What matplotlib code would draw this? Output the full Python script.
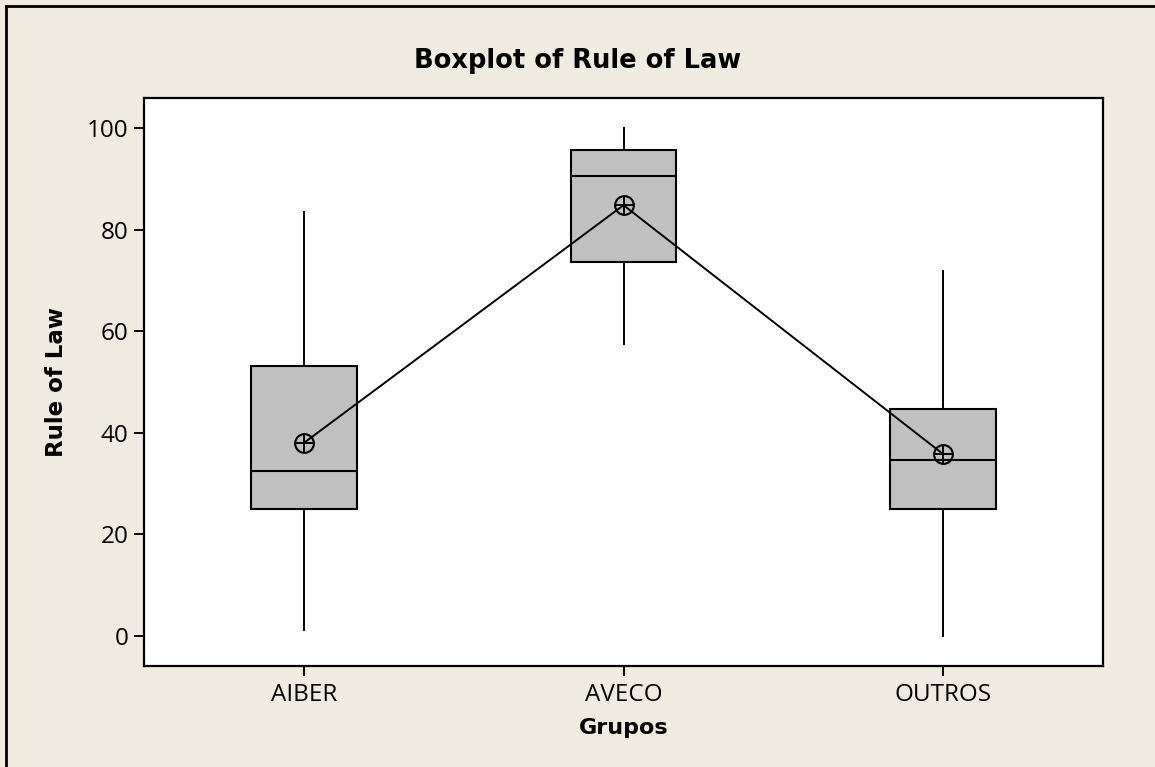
import matplotlib
matplotlib.use("Agg")
import matplotlib.pyplot as plt
from matplotlib.lines import Line2D

# ── Data ──────────────────────────────────────────────────────────────────
groups = ["AIBER", "AVECO", "OUTROS"]
whisker_low = [1.2, 57.5, 0.0]
q1 = [25.0, 73.7, 25.0]
median = [32.5, 90.6, 34.6]
q3 = [53.2, 95.7, 44.6]
whisker_high = [83.5, 100.0, 71.8]
means = [38.0, 84.8, 35.8]
y_ticks = [0, 20, 40, 60, 80, 100]

BG = "#EFEBE0"
BOX = "#C0C0C0"
W, H = 1155, 767

fig = plt.figure(figsize=(W / 100, H / 100), dpi=100, facecolor=BG)
ax = fig.add_axes([144 / W, 1 - 666 / H, (1103 - 144) / W, (666 - 98) / H])
ax.set_facecolor("white")

# outer frame (only left and top edges visible in the reference)
fig.add_artist(Line2D([6 / W, 6 / W], [0, 1 - 6 / H], transform=fig.transFigure,
                      color="black", linewidth=2))
fig.add_artist(Line2D([6 / W, 1], [1 - 6 / H, 1 - 6 / H], transform=fig.transFigure,
                      color="black", linewidth=2))

positions = list(range(1, len(groups) + 1))
stats = [
    {"whislo": lo, "q1": a, "med": m, "q3": b, "whishi": hi, "fliers": []}
    for lo, a, m, b, hi in zip(whisker_low, q1, median, q3, whisker_high)
]
ax.bxp(stats, positions=positions, widths=0.33, patch_artist=True,
       showcaps=False, showfliers=False,
       boxprops=dict(facecolor=BOX, edgecolor="black", linewidth=1.5),
       medianprops=dict(color="black", linewidth=1.5),
       whiskerprops=dict(color="black", linewidth=1.4))

# mean connect line + circled-plus symbols
ax.plot(positions, means, color="black", linewidth=1.4, zorder=4)
ax.plot(positions, means, "o", mfc="none", mec="black", ms=13.5, mew=1.5, zorder=5)
ax.plot(positions, means, "+", color="black", ms=13.5, mew=1.4, zorder=5)

ax.set_xlim(0.5, 3.5)
ax.set_ylim(-5.9, 105.9)
ax.set_xticks(positions)
ax.set_xticklabels(groups)
ax.set_yticks(y_ticks)

for lab in ax.get_xticklabels() + ax.get_yticklabels():
    lab.set_fontfamily("Open Sans")
    lab.set_fontsize(17.5)
ax.tick_params(direction="out", length=7, width=1.4, pad=4, colors="black")
ax.tick_params(axis="x", pad=5)
for sp in ax.spines.values():
    sp.set_linewidth(1.6)

ax.set_xlabel("Grupos", labelpad=8, family="DejaVu Sans", size=16, fontweight="bold")
ax.set_ylabel("Rule of Law", labelpad=14, family="DejaVu Sans", size=16.5,
              fontweight="bold")
fig.text(0.5, 1 - 61 / H, "Boxplot of Rule of Law", ha="center", va="center",
         family="DejaVu Sans", size=18.5, fontweight="bold")

fig.savefig("out.png", dpi=100, facecolor=BG)
